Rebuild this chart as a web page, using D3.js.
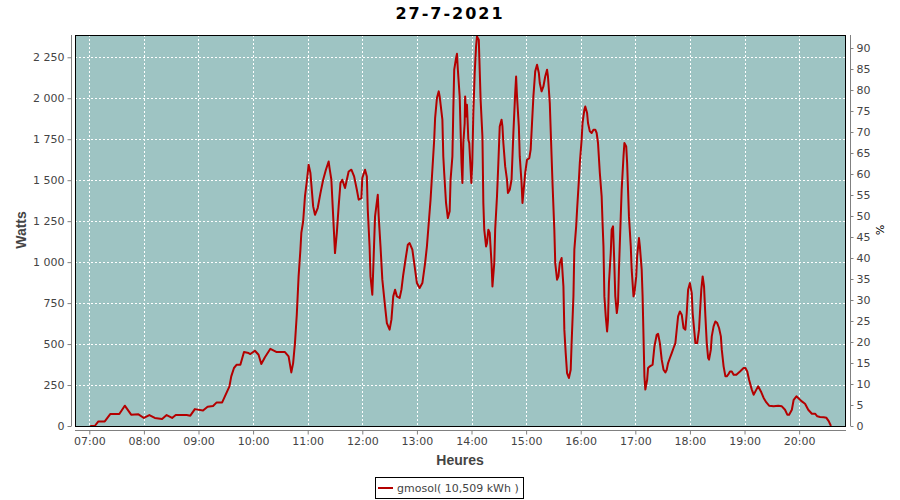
<!DOCTYPE html>
<html><head><meta charset="utf-8">
<script src="https://cdn.jsdelivr.net/npm/d3@7/dist/d3.min.js"></script>
<style>body{margin:0;background:#fff}svg{display:block}</style>
</head><body><svg id="c" width="900" height="500"></svg>
<script>
const title = "27-7-2021";
const seriesName = "gmosol( 10,509 kWh )";
const hourTicks = ["07:00","08:00","09:00","10:00","11:00","12:00","13:00","14:00","15:00","16:00","17:00","18:00","19:00","20:00"];
const wattTicks = [0,250,500,750,1000,1250,1500,1750,2000,2250];
const pctTicks = [0,5,10,15,20,25,30,35,40,45,50,55,60,65,70,75,80,85,90];
const times = ["07:01","07:06","07:10","07:17","07:23","07:33","07:39","07:46","07:54","08:00","08:06","08:12","08:20","08:25","08:31","08:35","08:47","08:51","08:56","09:05","09:10","09:16","09:20","09:26","09:29","09:34","09:36","09:39","09:42","09:46","09:50","09:55","09:57","10:02","10:06","10:09","10:13","10:19","10:26","10:35","10:39","10:42","10:44","10:46","10:48","10:50","10:52","10:53","10:55","10:57","10:59","11:01","11:03","11:06","11:08","11:11","11:14","11:17","11:20","11:23","11:24","11:26","11:28","11:30","11:32","11:34","11:36","11:38","11:41","11:45","11:48","11:51","11:54","11:56","11:59","12:00","12:03","12:05","12:06","12:08","12:09","12:11","12:12","12:14","12:17","12:18","12:20","12:22","12:25","12:27","12:30","12:32","12:34","12:36","12:38","12:41","12:43","12:45","12:48","12:50","12:52","12:55","12:58","13:00","13:03","13:06","13:09","13:11","13:13","13:15","13:17","13:19","13:20","13:22","13:24","13:25","13:28","13:29","13:30","13:32","13:34","13:36","13:37","13:39","13:40","13:41","13:43","13:44","13:45","13:47","13:48","13:49","13:50","13:51","13:52:30","13:53","13:54","13:55","13:56:30","13:57:30","13:58:40","13:59:50","14:00:50","14:02","14:03:30","14:05","14:06","14:08","14:09","14:10","14:12","14:13","14:14","14:16","14:17","14:18:30","14:20","14:22","14:23","14:25","14:26","14:28","14:29:30","14:31","14:33","14:34","14:35","14:37","14:39","14:40","14:42","14:44","14:46","14:48","14:49","14:50","14:52","14:53","14:55","14:56","14:57","14:59","15:01","15:03:30","15:05","15:06:30","15:08","15:10","15:12","15:14","15:15","15:17","15:19","15:21","15:23","15:24","15:26","15:28","15:29","15:31","15:32","15:34","15:35:30","15:37","15:39","15:41","15:42","15:43:30","15:45","15:47","15:49","15:50","15:52","15:53","15:55","15:56","15:58","15:59","16:01","16:02","16:04","16:05","16:07","16:08","16:10","16:12","16:14","16:16","16:17:30","16:19","16:21","16:23","16:24","16:25","16:26","16:27:30","16:29","16:30","16:31","16:33","16:34","16:35:30","16:36:40","16:38","16:39:40","16:41","16:42","16:44","16:45","16:47","16:48","16:50","16:51","16:52","16:53","16:55","16:56","16:58","16:59","17:01","17:02","17:04","17:05","17:07","17:08","17:10","17:11","17:13","17:14","17:16","17:19","17:21","17:23:30","17:25","17:27","17:29","17:31","17:33","17:34:30","17:36","17:38","17:40","17:42","17:44","17:45:30","17:47","17:49","17:51","17:53","17:55","17:56:30","17:58","18:00","18:02","18:03","18:05","18:06","18:08","18:10","18:11","18:12:30","18:14","18:15:30","18:17","18:18:30","18:20","18:21","18:23","18:24","18:26","18:28","18:30","18:32","18:34","18:35","18:37","18:39","18:40:30","18:42","18:44","18:46","18:48","18:51","18:55","18:59","19:01","19:03","19:05","19:08","19:10","19:13","19:15","19:18","19:21","19:24","19:27","19:32","19:37","19:41","19:44:30","19:47","19:49","19:52","19:54","19:57","19:59","20:03","20:06:30","20:10","20:14","20:17:30","20:20","20:23","20:27","20:30","20:32:30","20:35"];
const watts = [0,0,28,28,73,73,124,69,71,49,67,49,43,67,49,67,67,63,103,95,118,122,144,144,181,242,303,354,374,374,451,445,439,459,435,378,420,471,451,451,425,327,384,506,679,913,1076,1178,1248,1401,1492,1594,1544,1340,1289,1330,1421,1503,1564,1614,1574,1503,1279,1055,1178,1340,1483,1503,1452,1553,1564,1523,1442,1381,1391,1513,1564,1523,1320,1096,913,801,954,1279,1411,1279,1096,893,730,628,588,649,791,832,791,781,832,923,1035,1106,1116,1076,954,872,842,872,994,1096,1239,1381,1564,1747,1879,2001,2042,2011,1869,1645,1544,1361,1269,1310,1503,1645,1930,2174,2245,2271,2174,2011,1808,1605,1483,1727,1849,2011,1889,1960,1747,1727,1605,1483,1605,1910,2154,2316,2377,2357,2174,1991,1767,1361,1198,1096,1116,1198,1178,994,852,994,1198,1401,1605,1828,1869,1828,1727,1584,1503,1422,1442,1503,1788,2032,2133,2011,1828,1645,1483,1361,1422,1544,1625,1635,1686,1849,2011,2164,2204,2154,2093,2042,2072,2133,2174,2133,1971,1645,1483,1198,994,893,913,994,1025,852,588,445,323,293,343,506,791,1076,1218,1320,1503,1605,1747,1849,1930,1950,1910,1849,1798,1788,1808,1808,1788,1727,1544,1401,1239,1096,791,669,577,649,872,1055,1198,1218,1035,791,689,750,954,1279,1442,1645,1727,1706,1605,1442,1279,1096,954,791,811,913,1035,1147,1096,954,791,303,222,282,354,364,374,486,557,563,506,405,343,327,343,384,415,445,476,506,588,669,699,679,598,588,689,832,872,811,689,567,506,506,588,689,832,913,852,669,506,415,405,466,547,608,638,628,598,547,466,364,303,303,313,333,333,313,313,333,354,354,333,282,222,191,222,242,211,171,144,124,120,124,120,99,69,69,99,160,181,171,150,136,99,75,75,59,55,53,50,30,0];

const toMin = s => { const p = s.split(":").map(Number); return p[0]*60 + p[1] + (p[2]||0)/60; };
const data = times.map((t,i) => ({t: toMin(t), w: watts[i]}));

const svg = d3.select("#c");
const L = 75, R = 846, T = 35, B = 426;
const x = d3.scaleLinear().domain([404.3, 1251.5]).range([L, R]);
const y = d3.scaleLinear().domain([0, 2386]).range([B, T]);
const yr = d3.scaleLinear().domain([0, 93.1]).range([B, T]);
const txt = "#444444";
const font = "DejaVu Sans, sans-serif";

// plot background
svg.append("rect").attr("x", L).attr("y", T).attr("width", R-L).attr("height", B-T).attr("fill", "#9ec4c3");

// grid
const g = svg.append("g").attr("stroke", "#ffffff").attr("stroke-width", 1).attr("stroke-dasharray", "2,2");
g.selectAll("line.h").data(wattTicks.filter(v => v > 0)).join("line")
  .attr("x1", L).attr("x2", R).attr("y1", d => Math.round(y(d))+0.5).attr("y2", d => Math.round(y(d))+0.5);
g.selectAll("line.v").data(hourTicks).join("line")
  .attr("y1", T).attr("y2", B).attr("x1", d => Math.round(x(toMin(d)))+0.5).attr("x2", d => Math.round(x(toMin(d)))+0.5);

// line
svg.append("path").datum(data)
  .attr("fill", "none").attr("stroke", "#b40000").attr("stroke-width", 2).attr("stroke-linejoin", "round")
  .attr("d", d3.line().x(d => x(d.t)).y(d => y(d.w)));

// plot border
svg.append("rect").attr("x", L+0.5).attr("y", T+0.5).attr("width", R-L-1).attr("height", B-T).attr("fill", "none").attr("stroke", "#000").attr("stroke-width", 1);

function styleAxis(sel) {
  sel.selectAll("path.domain").attr("stroke", "#808080");
  sel.selectAll(".tick line").attr("stroke", "#808080");
  sel.selectAll(".tick text").attr("fill", txt).style("font-family", font).style("font-size", "11px");
}

// left axis
const ax = svg.append("g").attr("transform", "translate(71.5,0)")
  .call(d3.axisLeft(y).tickValues(wattTicks).tickSize(4).tickSizeOuter(0).tickPadding(3)
    .tickFormat(d => d3.format(",")(d).replace(/,/g, " ")));
styleAxis(ax);
ax.select("path.domain").attr("d", `M0,${T}V${B}`);

// right axis
const ar = svg.append("g").attr("transform", "translate(850.5,0)")
  .call(d3.axisRight(yr).tickValues(pctTicks).tickSize(3).tickSizeOuter(0).tickPadding(3));
styleAxis(ar);
ar.select("path.domain").attr("d", `M0,${T}V${B}`);

// bottom axis
const ab = svg.append("g").attr("transform", "translate(0,430.5)")
  .call(d3.axisBottom(x).tickValues(hourTicks.map(toMin)).tickSize(4).tickSizeOuter(0).tickPadding(3)
    .tickFormat((d,i) => hourTicks[i]));
styleAxis(ab);
ab.select("path.domain").attr("d", `M${L},0H${R}`);

// titles
svg.append("text").attr("x", 450).attr("y", 19).attr("text-anchor", "middle")
  .style("font-family", font).style("font-size", "16px").style("font-weight", "bold").style("letter-spacing", "2px")
  .attr("fill", "#000").text(title);
svg.append("text").attr("x", 460).attr("y", 465).attr("text-anchor", "middle")
  .style("font-family", "Liberation Sans, Arial, sans-serif").style("font-size", "14px").style("font-weight", "bold")
  .attr("fill", txt).text("Heures");
svg.append("text").attr("transform", "translate(26,230) rotate(-90)").attr("text-anchor", "middle")
  .style("font-family", "Liberation Sans, Arial, sans-serif").style("font-size", "14px").style("font-weight", "bold")
  .attr("fill", txt).text("Watts");
svg.append("text").attr("transform", "translate(876,230) rotate(90)").attr("text-anchor", "middle")
  .style("font-family", font).style("font-size", "11px")
  .attr("fill", "#000").text("%");

// legend
const lg = svg.append("g");
lg.append("rect").attr("x", 375.5).attr("y", 477.5).attr("width", 148).attr("height", 21).attr("fill", "#fff").attr("stroke", "#000");
lg.append("line").attr("x1", 378).attr("x2", 393).attr("y1", 488).attr("y2", 488).attr("stroke", "#b40000").attr("stroke-width", 2);
lg.append("text").attr("x", 397).attr("y", 492).style("font-family", font).style("font-size", "11px")
  .attr("fill", txt).text(seriesName);
</script></body></html>
